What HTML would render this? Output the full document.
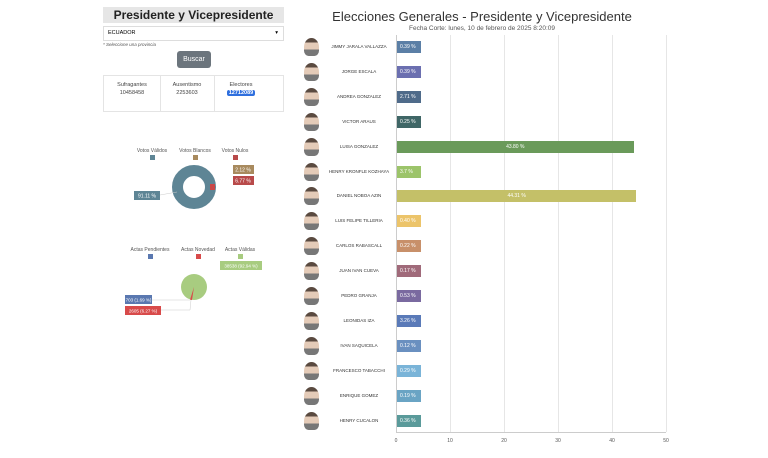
<!DOCTYPE html><html><head><style>
body{margin:0;width:768px;height:458px;background:#fff;font-family:"Liberation Sans",sans-serif;position:relative;overflow:hidden}
.a{position:absolute}
.t{font-size:4.5px;color:#333;text-align:center;width:100px;white-space:nowrap}
.lb{position:absolute;height:12px;line-height:12px;font-size:5px;color:#fff;padding-left:3px;box-sizing:border-box}
.av{position:absolute;left:304px;width:15px;height:18px;border-radius:50% 50% 30% 30%;background:linear-gradient(#5a4a40 25%,#e4cbb8 25%,#e4cbb8 65%,#777 65%)}
</style></head><body>
<div class="a" style="left:103px;top:7px;width:181px;height:16px;background:#e6e6e6;font-size:12px;font-weight:bold;text-align:center;line-height:16px;color:#222">Presidente y Vicepresidente</div>
<div class="a" style="left:103px;top:26px;width:181px;height:15px;border:1px solid #ddd;box-sizing:border-box;font-size:5.5px;line-height:13px;padding-left:4px">ECUADOR<span style="float:right;margin-right:5px">▾</span></div>
<div class="a" style="left:103px;top:42px;font-size:4.5px;font-style:italic;color:#555">* Seleccione una provincia</div>
<div class="a" style="left:177px;top:51px;width:34px;height:17px;background:#6c757d;border-radius:3px;color:#fff;font-size:7px;text-align:center;line-height:17px">Buscar</div>
<div class="a" style="left:103px;top:75px;width:181px;height:37px;border:1px solid #e4e4e4;box-sizing:border-box"></div>
<div class="a" style="left:160px;top:76px;width:1px;height:35px;background:#e4e4e4"></div>
<div class="a" style="left:214px;top:76px;width:1px;height:35px;background:#e4e4e4"></div>
<div class="a" style="left:104px;top:82px;width:56px;font-size:5.5px;text-align:center;color:#444">Sufragantes<br><span style="line-height:10px">10458458</span></div>
<div class="a" style="left:160px;top:82px;width:54px;font-size:5.5px;text-align:center;color:#444">Ausentismo<br><span style="line-height:10px">2253603</span></div>
<div class="a" style="left:214px;top:82px;width:54px;font-size:5.5px;text-align:center;color:#444">Electores<br><span style="display:inline-block;margin-top:2px;background:#2f6fde;color:#fff;border-radius:2px;padding:0 2px;font-weight:bold">12712089</span></div>
<svg class="a" style="left:100px;top:140px" width="190" height="190">
<g font-size="5" fill="#555" text-anchor="middle"><text x="52" y="12">Votos Válidos</text><text x="95" y="12">Votos Blancos</text><text x="135" y="12">Votos Nulos</text></g>
<rect x="50" y="15" width="5" height="5" fill="#5e8595"/><rect x="93" y="15" width="5" height="5" fill="#a88a5e"/><rect x="133" y="15" width="5" height="5" fill="#b84a4a"/>
<circle cx="94" cy="47" r="16.5" fill="none" stroke="#5e8595" stroke-width="11"/>
<path d="M110,44 L115,44 L115,50 L110,50Z" fill="#c94848"/>
<line x1="77" y1="52" x2="60" y2="55" stroke="#ccc" stroke-width="0.5"/>
<rect x="34" y="51" width="26" height="9" fill="#5e8595"/><text x="47" y="57.5" font-size="5" fill="#fff" text-anchor="middle">91.11 %</text>
<rect x="133" y="25" width="21" height="9" fill="#a88a5e"/><text x="143" y="31.5" font-size="5" fill="#fff" text-anchor="middle">2.12 %</text>
<rect x="133" y="36" width="21" height="9" fill="#b84a4a"/><text x="143" y="42.5" font-size="5" fill="#fff" text-anchor="middle">6.77 %</text>
<g font-size="5" fill="#555" text-anchor="middle"><text x="50" y="111">Actas Pendientes</text><text x="98" y="111">Actas Novedad</text><text x="140" y="111">Actas Válidas</text></g>
<rect x="48" y="114" width="5" height="5" fill="#5a78b0"/><rect x="96" y="114" width="5" height="5" fill="#d84a4a"/><rect x="138" y="114" width="5" height="5" fill="#a8cc80"/>
<circle cx="94" cy="147" r="13" fill="#a8cc80"/><path d="M94,147 L92,160 L90,159.7Z" fill="#d84a4a"/>
<rect x="120" y="121" width="42" height="9" fill="#a8cc80"/><text x="141" y="127.5" font-size="4.5" fill="#fff" text-anchor="middle">38538 (92.94 %)</text>
<rect x="25" y="155" width="27" height="9" fill="#5a78b0"/><text x="38.5" y="161.5" font-size="4.5" fill="#fff" text-anchor="middle">703 (1.69 %)</text>
<rect x="25" y="166" width="36" height="9" fill="#d84a4a"/><text x="43" y="172.5" font-size="4.5" fill="#fff" text-anchor="middle">2605 (6.27 %)</text>
<path d="M52,160 L90,160 M61,170 L90,170 L91,160" stroke="#ccc" stroke-width="0.5" fill="none"/>
</svg>
<div class="a" style="left:300px;top:9px;width:364px;text-align:center;font-size:13px;color:#333">Elecciones Generales - Presidente y Vicepresidente</div>
<div class="a" style="left:300px;top:25px;width:364px;text-align:center;font-size:6.5px;color:#555">Fecha Corte: lunes, 10 de febrero de 2025 8:20:09</div>
<div id="ch"></div>
<script>
var d=[["JIMMY JARALA VALLAZZA","0.39",0.39,"#5b7fa6"],["JORGE ESCALA","0.39",0.39,"#6b6fb0"],["ANDREA GONZALEZ","2.71",2.71,"#4f6b8a"],["VICTOR ARAUS","0.25",0.25,"#3f6666"],["LUISA GONZALEZ","43.80",43.80,"#6a9a5a"],["HENRY KRONFLE KOZHAYA","3.7",3.7,"#9cc46a"],["DANIEL NOBOA AZIN","44.31",44.31,"#c4c068"],["LUIS FELIPE TILLERIA","0.40",0.40,"#ecc46a"],["CARLOS RABASCALL","0.22",0.22,"#c8906a"],["JUAN IVAN CUEVA","0.17",0.17,"#a06a7a"],["PEDRO GRANJA","0.53",0.53,"#7a6aa0"],["LEONIDAS IZA","3.26",3.26,"#5a7ab8"],["IVAN SAQUICELA","0.12",0.12,"#6a90c0"],["FRANCESCO TABACCHI","0.29",0.29,"#7ab4d8"],["ENRIQUE GOMEZ","0.19",0.19,"#6aa4c4"],["HENRY CUCALON","0.36",0.36,"#5a9a9a"]];
var h="",s=5.4;
for(var g=0;g<=5;g++){var x=396+g*10*s;h+='<div class="a" style="left:'+x+'px;top:35px;width:1px;height:397px;background:'+(g?'#e6e6e6':'#ccc')+'"></div><div class="a" style="left:'+(x-10)+'px;top:438px;width:20px;text-align:center;font-size:5px;color:#555">'+g*10+'</div>';}
h+='<div class="a" style="left:396px;top:432px;width:270px;height:1px;background:#ccc"></div>';
d.forEach(function(r,i){var y=47+i*24.9;h+='<div class="av" style="top:'+(y-9)+'px"></div><div class="a t" style="left:309px;top:'+(y-3)+'px">'+r[0]+'</div>';var w=Math.max(r[2]*s,24);
h+='<div class="lb" style="left:397px;top:'+(y-6)+'px;width:'+w+'px;background:'+r[3]+(r[2]>10?';text-align:center;padding:0':'')+'">'+r[1]+' %</div>';});
document.getElementById('ch').innerHTML=h;
</script>
</body></html>
